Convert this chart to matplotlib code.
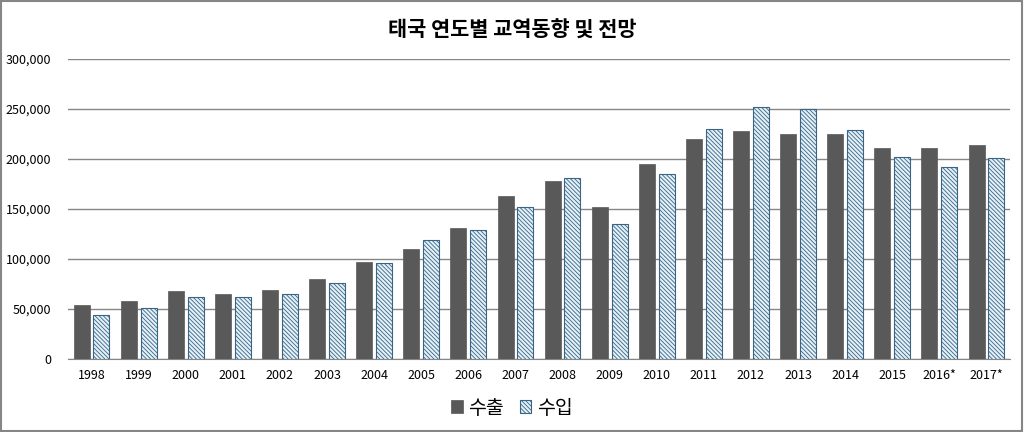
import matplotlib
matplotlib.use("Agg")
import matplotlib.pyplot as plt
import numpy as np
from matplotlib.patches import Rectangle
from matplotlib.ticker import FuncFormatter

plt.rcParams['font.family'] = ['Noto Sans CJK KR', 'DejaVu Sans']
plt.rcParams['hatch.linewidth'] = 0.6

years = ['1998', '1999', '2000', '2001', '2002', '2003', '2004', '2005', '2006', '2007',
         '2008', '2009', '2010', '2011', '2012', '2013', '2014', '2015', '2016*', '2017*']
exports = [54000, 58000, 68000, 65000, 69000, 80000, 97000, 110000, 131000, 163000,
           178000, 152000, 195000, 220000, 228000, 225000, 225000, 211000, 211000, 214000]
imports = [44000, 51000, 62000, 62000, 65000, 76000, 96000, 119000, 129000, 152000,
           181000, 135000, 185000, 230000, 252000, 250000, 229000, 202000, 192000, 201000]

title = '태국 연도별 교역동향 및 전망'
labels = ['수출', '수입']

fig = plt.figure(figsize=(10.24, 4.32), dpi=100)
ax = fig.add_axes([68/1024, 73/432, 942/1024, 300/432])

x = np.arange(len(years))
w = 0.34
ax.bar(x - 0.21, exports, width=w, color='#595959', edgecolor='#595959', linewidth=0.5,
       label=labels[0], zorder=3)
ax.bar(x + 0.21, imports, width=w, color='#e3f1f7', edgecolor='#3a6485', hatch='\\' * 8,
       linewidth=0.8, label=labels[1], zorder=3)

ax.set_xlim(-0.5, len(years) - 0.5)
ax.set_ylim(0, 300000)
ax.set_yticks(np.arange(0, 300001, 50000))
ax.yaxis.set_major_formatter(FuncFormatter(lambda v, p: f'{int(v):,}'))
ax.grid(axis='y', color='#868686', linewidth=1, zorder=0)
ax.set_xticks(x)
ax.set_xticklabels(years)
ax.tick_params(axis='both', length=0, labelsize=9, colors='#000000')
ax.tick_params(axis='x', pad=7)
ax.tick_params(axis='y', pad=12)
for s in ['top', 'right', 'left']:
    ax.spines[s].set_visible(False)
ax.spines['bottom'].set_color('#868686')

fig.text(0.5, 1 - 30/432, title, ha='center', va='center', fontsize=15, fontweight='bold')

leg = fig.legend(loc='center', bbox_to_anchor=(0.5, 1 - 408/432), ncol=2, frameon=False,
                 fontsize=14, handlelength=0.6, handleheight=0.6, handletextpad=0.3,
                 columnspacing=0.8)

fig.patches.append(Rectangle((0.001, 0.002), 0.997, 0.996, transform=fig.transFigure,
                             fill=False, edgecolor='#868686', linewidth=1.5))

fig.savefig('out.png', dpi=100)
